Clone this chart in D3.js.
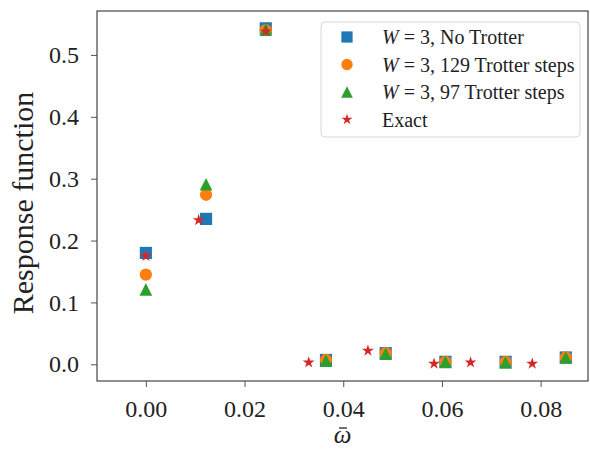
<!DOCTYPE html>
<html>
<head>
<meta charset="utf-8">
<script src="https://cdn.jsdelivr.net/npm/d3@7"></script>
<style>
  body { margin: 0; background: #fff; }
  text { font-family: "Liberation Serif", "Times New Roman", serif; }
</style>
</head>
<body>
<svg class="chart-svg"></svg>
<script>
// values
const omegaGrid   = [0, 0.0122, 0.0243, 0.0365, 0.0486, 0.0607, 0.0729, 0.0851];
const noTrotter   = [0.180, 0.235, 0.543, 0.007, 0.018, 0.004, 0.004, 0.011];
const trotter129  = [0.145, 0.274, 0.540, 0.007, 0.018, 0.004, 0.004, 0.011];
const trotter97   = [0.121, 0.291, 0.541, 0.006, 0.017, 0.004, 0.003, 0.011];
const exactOmega  = [0, 0.0107, 0.0243, 0.0330, 0.0450, 0.0584, 0.0658, 0.0783];
const exactValues = [0.175, 0.233, 0.538, 0.003, 0.022, 0.001, 0.003, 0.001];

const xTicks = [0, 0.02, 0.04, 0.06, 0.08];
const yTicks = [0, 0.1, 0.2, 0.3, 0.4, 0.5];
const legendRest = [", No Trotter", ", 129 Trotter steps", ", 97 Trotter steps", "Exact"];

const width = 590, height = 449;
const margin = {top: 11, right: 2, bottom: 68, left: 97};

const svg = d3.select(".chart-svg")
    .attr("width", width)
    .attr("height", height);

const x = d3.scaleLinear()
    .domain([-0.0099, 0.0896])
    .range([margin.left, width - margin.right]);

const y = d3.scaleLinear()
    .domain([-0.027, 0.571])
    .range([height - margin.bottom, margin.top]);

// matplotlib style "^" (width == height)
const triangleUp = {
    draw(ctx, size) {
        const r = Math.sqrt(size) / 2;
        ctx.moveTo(0, -r);
        ctx.lineTo(r, r);
        ctx.lineTo(-r, r);
        ctx.closePath();
    }
};

const series = [
    {xs: omegaGrid, ys: noTrotter, color: "#1f77b4", type: d3.symbolSquare, size: 148},
    {xs: omegaGrid, ys: trotter129, color: "#ff7f0e", type: d3.symbolCircle, size: 118},
    {xs: omegaGrid, ys: trotter97, color: "#2ca02c", type: triangleUp, size: 160},
    {xs: exactOmega, ys: exactValues, color: "#d62728", type: d3.symbolStar, size: 44}
];

// axes
const xAxis = d3.axisBottom(x).tickValues(xTicks).tickFormat(d3.format(".2f"))
    .tickSize(6).tickPadding(13);
const yAxis = d3.axisLeft(y).tickValues(yTicks).tickFormat(d3.format(".1f"))
    .tickSize(6).tickPadding(12);

const gx = svg.append("g")
    .attr("transform", `translate(0,${height - margin.bottom})`)
    .call(xAxis);
const gy = svg.append("g")
    .attr("transform", `translate(${margin.left},0)`)
    .call(yAxis);

[gx, gy].forEach(g => {
    g.select(".domain").remove();
    g.selectAll(".tick line").attr("stroke", "#555").attr("stroke-width", 1);
    g.selectAll(".tick text")
        .attr("fill", "#222")
        .style("font-family", '"Liberation Serif", serif')
        .style("font-size", "24px");
});

svg.append("rect")
    .attr("x", margin.left)
    .attr("y", margin.top)
    .attr("width", width - margin.left - margin.right)
    .attr("height", height - margin.top - margin.bottom)
    .attr("fill", "none")
    .attr("stroke", "#444")
    .attr("stroke-width", 1.2);

// points
series.forEach(s => {
    svg.append("g")
        .selectAll("path")
        .data(s.xs.map((d, i) => [d, s.ys[i]]))
        .join("path")
        .attr("transform", d => `translate(${x(d[0])},${y(d[1])})`)
        .attr("d", d3.symbol().type(s.type).size(s.size))
        .attr("fill", s.color);
});

// axis labels
svg.append("text")
    .attr("transform", "translate(33,203) rotate(-90)")
    .attr("text-anchor", "middle")
    .style("font-size", "30px")
    .attr("fill", "#222")
    .text("Response function");

const xl = svg.append("text")
    .attr("x", (margin.left + width - margin.right) / 2)
    .attr("y", 443)
    .attr("text-anchor", "middle")
    .style("font-size", "25px")
    .style("font-style", "italic")
    .attr("fill", "#222")
    .text("ω");
const bb = xl.node().getBBox();
svg.append("line")
    .attr("x1", bb.x + bb.width * 0.3)
    .attr("x2", bb.x + bb.width * 0.75)
    .attr("y1", 428).attr("y2", 428)
    .attr("stroke", "#222")
    .attr("stroke-width", 1.3);

// legend
const legend = svg.append("g").attr("transform", "translate(321,22)");
legend.append("rect")
    .attr("width", 259).attr("height", 115)
    .attr("rx", 4)
    .attr("fill", "#fff")
    .attr("fill-opacity", 0.8)
    .attr("stroke", "#d8d8d8");

series.forEach((s, i) => {
    const row = legend.append("g").attr("transform", `translate(0,${15 + i * 27.5})`);
    row.append("path")
        .attr("transform", "translate(26,0)")
        .attr("d", d3.symbol().type(s.type).size(s.size * 0.85))
        .attr("fill", s.color);
    const t = row.append("text")
        .attr("x", 61)
        .attr("dy", "0.35em")
        .style("font-size", "20px")
        .attr("fill", "#222");
    if (i < 3) {
        t.append("tspan").style("font-style", "italic").text("W");
        t.append("tspan").text(" = 3");
    }
    t.append("tspan").text(legendRest[i]);
});
</script>
</body>
</html>
